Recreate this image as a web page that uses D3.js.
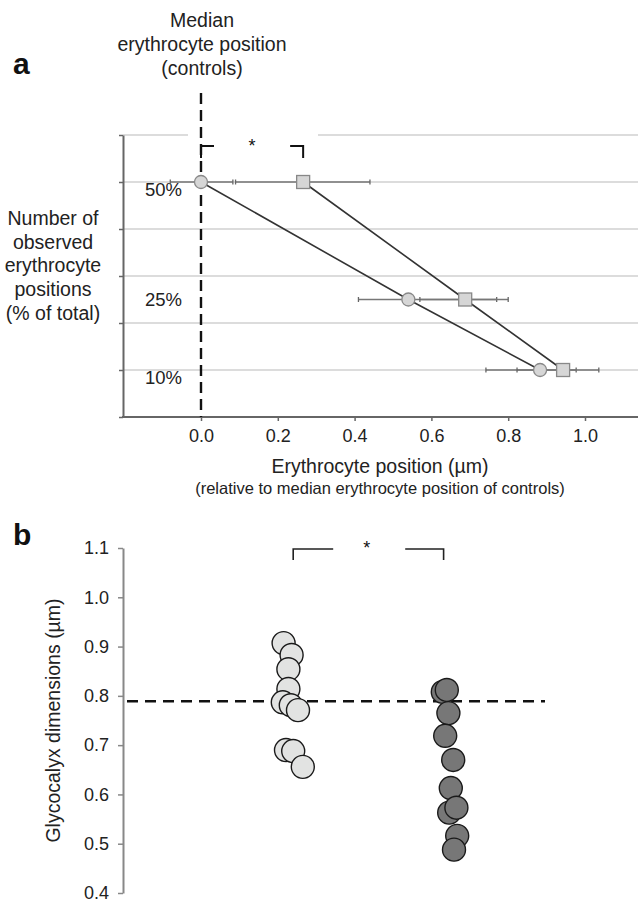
<!DOCTYPE html>
<html>
<head>
<meta charset="utf-8">
<script src="https://cdn.jsdelivr.net/npm/d3@7"></script>
<style>
  body { margin: 0; background: #fff; }
  svg { font-family: "Liberation Sans", Arial, sans-serif; }
</style>
</head>
<body>
<svg width="638" height="902"></svg>
<script>
// ---- panel a data ----
const levels = [50, 25, 10];
const circleX = [0.0, 0.54, 0.883];
const circleLo = [-0.08, 0.41, 0.742];
const circleHi = [0.083, 0.77, 0.977];
const squareX = [0.266, 0.688, 0.943];
const squareLo = [0.09, 0.57, 0.823];
const squareHi = [0.44, 0.80, 1.036];
const xTicksA = [0.0, 0.2, 0.4, 0.6, 0.8, 1.0];
const yGridA = [10, 20, 30, 40, 50, 60];
const yLabelsA = ['50%', '25%', '10%'];

// ---- panel b data ----
const groupLight = [0.907, 0.883, 0.854, 0.814, 0.787, 0.781, 0.771, 0.690, 0.688, 0.656];
const jitterLight = [-0.04, 0.01, -0.01, -0.01, -0.045, 0.005, 0.05, -0.025, 0.02, 0.08];
const groupDark = [0.808, 0.812, 0.765, 0.719, 0.670, 0.613, 0.563, 0.573, 0.516, 0.488];
const jitterDark = [-0.045, -0.02, -0.01, -0.03, 0.02, 0.005, -0.005, 0.04, 0.045, 0.025];
const yTicksB = [0.4, 0.5, 0.6, 0.7, 0.8, 0.9, 1.0, 1.1];
const refLine = 0.789;

const FONT = '"Liberation Sans", Arial, sans-serif';
const svg = d3.select('svg');

// ================= panel a =================
const xA = d3.scaleLinear().domain([0, 1]).range([201, 585]);
const yA = d3.scaleLinear().domain([0, 60]).range([417, 135]);

const ga = svg.append('g');

// gridlines
ga.selectAll('.grid')
    .data(yGridA)
    .enter().append('line')
    .attr('x1', 123).attr('x2', 638)
    .attr('y1', d => yA(d)).attr('y2', d => yA(d))
    .attr('stroke', '#dcdcdc')
    .attr('stroke-width', 2);

// white gap behind bracket on top gridline
ga.append('rect')
    .attr('x', 188).attr('y', yA(60) - 3)
    .attr('width', 130).attr('height', 6)
    .attr('fill', '#fff');

// axes
const xAxisA = d3.axisBottom(xA).tickValues(xTicksA).tickFormat(d3.format('.1f')).tickSize(4).tickSizeOuter(0);
const gxa = ga.append('g').attr('transform', `translate(0,${yA(0)})`).call(xAxisA);
gxa.select('.domain').remove();
gxa.append('line').attr('x1', 122).attr('x2', 638).attr('stroke', '#666').attr('stroke-width', 2);
gxa.selectAll('.tick line').attr('stroke', '#666').attr('stroke-width', 1.5);
gxa.selectAll('.tick text').attr('y', 25).attr('dy', 0).attr('font-size', 18).attr('fill', '#222')
    .attr('font-family', FONT);

const yAxisA = d3.axisLeft(yA).tickValues([0].concat(yGridA)).tickFormat('').tickSize(4).tickSizeOuter(0);
const gya = ga.append('g').attr('transform', 'translate(123,0)').call(yAxisA);
gya.select('.domain').attr('stroke', '#666').attr('stroke-width', 2);
gya.selectAll('.tick line').attr('stroke', '#666').attr('stroke-width', 1.5);

// percentage labels
ga.selectAll('.plab')
    .data(levels)
    .enter().append('text')
    .attr('x', 182).attr('y', (d, i) => yA(d) + (i === 1 ? 6 : 14))
    .attr('text-anchor', 'end')
    .attr('font-size', 18.5).attr('fill', '#222')
    .text((d, i) => yLabelsA[i]);

// dashed median line
ga.append('line')
    .attr('x1', xA(0)).attr('x2', xA(0))
    .attr('y1', 93).attr('y2', yA(0))
    .attr('stroke', '#111').attr('stroke-width', 2.4)
    .attr('stroke-dasharray', '11,6');

// error bars
function errBars(lo, hi) {
    levels.forEach((lv, i) => {
        const y = yA(lv);
        ga.append('line').attr('x1', xA(lo[i])).attr('x2', xA(hi[i]))
            .attr('y1', y).attr('y2', y).attr('stroke', '#777').attr('stroke-width', 1.6);
        [lo[i], hi[i]].forEach(v => ga.append('line')
            .attr('x1', xA(v)).attr('x2', xA(v)).attr('y1', y - 2.5).attr('y2', y + 2.5)
            .attr('stroke', '#666').attr('stroke-width', 1.3));
    });
}
errBars(circleLo, circleHi);
errBars(squareLo, squareHi);

// connecting lines
const lineA = d3.line().x(d => xA(d[0])).y(d => yA(d[1]));
ga.append('path').attr('d', lineA(circleX.map((v, i) => [v, levels[i]])))
    .attr('fill', 'none').attr('stroke', '#333').attr('stroke-width', 1.6);
ga.append('path').attr('d', lineA(squareX.map((v, i) => [v, levels[i]])))
    .attr('fill', 'none').attr('stroke', '#333').attr('stroke-width', 1.6);

// markers
ga.selectAll('.cm').data(circleX).enter().append('circle')
    .attr('cx', d => xA(d)).attr('cy', (d, i) => yA(levels[i])).attr('r', 6.5)
    .attr('fill', '#d6d6d6').attr('stroke', '#888').attr('stroke-width', 1.3);
ga.selectAll('.sm').data(squareX).enter().append('rect')
    .attr('x', d => xA(d) - 6.5).attr('y', (d, i) => yA(levels[i]) - 6.5)
    .attr('width', 13).attr('height', 13)
    .attr('fill', '#d6d6d6').attr('stroke', '#888').attr('stroke-width', 1.3);

// significance bracket a
ga.append('path')
    .attr('d', `M${xA(0)},158V146H${xA(0) + 13}`)
    .attr('fill', 'none').attr('stroke', '#111').attr('stroke-width', 2);
ga.append('path')
    .attr('d', `M${xA(0.266) - 13},146H${xA(0.266)}V158`)
    .attr('fill', 'none').attr('stroke', '#111').attr('stroke-width', 2);
ga.append('text').attr('x', 252).attr('y', 152).attr('text-anchor', 'middle')
    .attr('font-size', 18).attr('fill', '#111').text('*');

// titles a
ga.append('text').attr('x', 13).attr('y', 74).attr('font-size', 30).attr('font-weight', 'bold')
    .attr('fill', '#111').text('a');
const medTitle = ['Median', 'erythrocyte position', '(controls)'];
ga.selectAll('.mt').data(medTitle).enter().append('text')
    .attr('x', 202).attr('y', (d, i) => 27 + i * 24)
    .attr('text-anchor', 'middle').attr('font-size', 19.5).attr('fill', '#222')
    .text(d => d);
const yTitleA = ['Number of', 'observed', 'erythrocyte', 'positions', '(% of total)'];
ga.selectAll('.yt').data(yTitleA).enter().append('text')
    .attr('x', 53).attr('y', (d, i) => 225 + i * 23.7)
    .attr('text-anchor', 'middle').attr('font-size', 19.5).attr('fill', '#222')
    .text(d => d);
ga.append('text').attr('x', 380).attr('y', 473).attr('text-anchor', 'middle')
    .attr('font-size', 19.5).attr('fill', '#222').text('Erythrocyte position (µm)');
ga.append('text').attr('x', 380).attr('y', 494).attr('text-anchor', 'middle')
    .attr('font-size', 16.5).attr('fill', '#222')
    .text('(relative to median erythrocyte position of controls)');

// ================= panel b =================
const xB = d3.scaleLinear().domain([0, 3]).range([130, 610]);
const yB = d3.scaleLinear().domain([0.4, 1.1]).range([893, 548]);
const gb = svg.append('g');

gb.append('text').attr('x', 13).attr('y', 545).attr('font-size', 30).attr('font-weight', 'bold')
    .attr('fill', '#111').text('b');

const yAxisB = d3.axisLeft(yB).tickValues(yTicksB).tickFormat(d3.format('.1f')).tickSize(5).tickSizeOuter(0);
const gyb = gb.append('g').attr('transform', 'translate(123,0)').call(yAxisB);
gyb.select('.domain').attr('stroke', '#888').attr('stroke-width', 2);
gyb.selectAll('.tick line').attr('stroke', '#888').attr('stroke-width', 1.5);
gyb.selectAll('.tick text').attr('font-size', 18).attr('fill', '#222').attr('x', -14)
    .attr('font-family', FONT);

gb.append('text')
    .attr('transform', `translate(60,${yB(0.75)}) rotate(-90)`)
    .attr('text-anchor', 'middle').attr('font-size', 19.5).attr('fill', '#222')
    .text('Glycocalyx dimensions (µm)');

// reference dashed line
gb.append('line')
    .attr('x1', 127).attr('x2', 545)
    .attr('y1', yB(refLine)).attr('y2', yB(refLine))
    .attr('stroke', '#111').attr('stroke-width', 2.4).attr('stroke-dasharray', '11,7');

// bracket b
gb.append('path').attr('d', `M${xB(1.02)},560V549H${xB(1.27)}`)
    .attr('fill', 'none').attr('stroke', '#222').attr('stroke-width', 1.6);
gb.append('path').attr('d', `M${xB(1.72)},549H${xB(1.96)}V560`)
    .attr('fill', 'none').attr('stroke', '#222').attr('stroke-width', 1.6);
gb.append('text').attr('x', xB(1.48)).attr('y', 554).attr('text-anchor', 'middle')
    .attr('font-size', 18).attr('fill', '#111').text('*');

// dots
gb.selectAll('.lp').data(groupLight).enter().append('circle')
    .attr('cx', (d, i) => xB(1 + jitterLight[i])).attr('cy', d => yB(d)).attr('r', 11.5)
    .attr('fill', '#e2e3e2').attr('stroke', '#1a1a1a').attr('stroke-width', 1.4);
gb.selectAll('.dp').data(groupDark).enter().append('circle')
    .attr('cx', (d, i) => xB(2 + jitterDark[i])).attr('cy', d => yB(d)).attr('r', 11.5)
    .attr('fill', '#777').attr('stroke', '#1a1a1a').attr('stroke-width', 1.4);
</script>
</body>
</html>
